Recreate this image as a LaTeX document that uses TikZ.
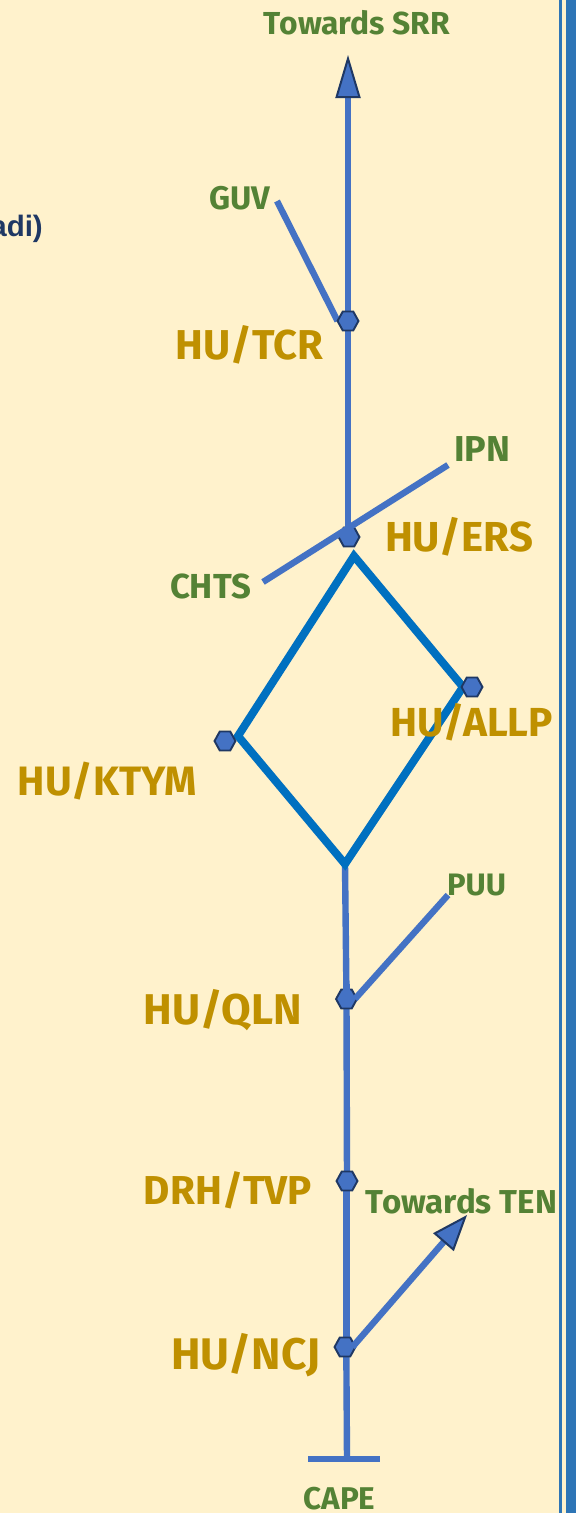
\documentclass[tikz,border=0pt]{standalone}
\usepackage{fontspec}
\usepackage{graphicx}
\setmainfont{Fira Sans}
\newfontfamily\arialish{Liberation Sans}
\usetikzlibrary{arrows.meta,shapes.geometric,backgrounds}
\definecolor{bgcream}{HTML}{FFF2CC}
\definecolor{railblue}{HTML}{2E75B6}
\definecolor{lineblue}{HTML}{4472C4}
\definecolor{loopblue}{HTML}{0070C0}
\definecolor{darkedge}{HTML}{1F3864}
\definecolor{goldtext}{HTML}{BF9000}
\definecolor{greentext}{HTML}{548235}
\newcommand{\fitw}[2]{\resizebox{#1pt}{!}{#2}}
\tikzset{
  hub/.style={regular polygon,regular polygon sides=6,minimum size=22pt,inner sep=0pt,outer sep=0pt,
    xscale=.95,transform shape,fill=lineblue,draw=darkedge,line width=1.9pt},
  track/.style={draw=lineblue,line width=6.4pt},
  loopline/.style={draw=loopblue,line width=8pt,line join=miter},
  station/.style={text=goldtext,font=\bfseries\fontsize{38}{38}\selectfont,inner sep=0pt},
  place/.style={text=greentext,font=\bfseries\fontsize{29}{29}\selectfont,inner sep=0pt},
  bigtip/.style={-{Triangle[length=43pt,width=25pt,fill=lineblue,color=darkedge,line width=2pt]}},
  midtip/.style={-{Triangle[length=36pt,width=27pt,fill=lineblue,color=darkedge,line width=2pt]}},
}
\begin{document}
\begin{tikzpicture}[x=1pt,y=-1pt]
\useasboundingbox (0,0) rectangle (576,1513);

\coordinate (srrEnd) at (348,55);
\coordinate (guvEnd) at (277,201);
\coordinate (ipnEnd) at (448,465);
\coordinate (chtsEnd) at (263,582);
\coordinate (puuEnd) at (448,895);
\coordinate (tenEnd) at (467,1215);
\coordinate (capeEnd) at (347,1459);
\coordinate (capeL) at (308,1459);
\coordinate (capeR) at (380,1459);
\coordinate (loopT) at (354,556);
\coordinate (loopR) at (463,687);
\coordinate (loopB) at (345,864);
\coordinate (loopL) at (238,736);

\node[hub] (tcr) at (348,321) {};
\node[hub] (ers) at (349,537) {};
\node[hub] (allp) at (472,687) {};
\node[hub] (ktym) at (225,741) {};
\node[hub] (qln) at (346.5,999) {};
\node[hub] (tvp) at (347,1181) {};
\node[hub] (ncj) at (345,1347) {};

\begin{pgfonlayer}{background}
\fill[bgcream] (0,0) rectangle (576,1513);
\fill[railblue] (559,0) rectangle (562,1513);
\fill[railblue] (565.7,0) rectangle (576,1513);
\draw[track,bigtip] (tcr.center) -- (srrEnd);
\draw[track] (guvEnd) -- (tcr.west);
\draw[track] (tcr.center) -- (ers.center -| tcr.center);
\draw[track] (loopB) -- (qln.center);
\draw[track] (qln.center) -- (tvp.center);
\draw[track] ([xshift=-.7pt]tvp.center) -- ([xshift=1.3pt]ncj.center);
\draw[track] ([xshift=1.3pt]ncj.center) -- (capeEnd);
\draw[loopline] (loopT) -- (loopR) -- (loopB) -- (loopL) -- cycle;
\end{pgfonlayer}

\draw[track] (chtsEnd) -- (ipnEnd);
\draw[track] ([yshift=5pt]qln.north) -- (qln.center);
\draw[track] (puuEnd) -- ([xshift=-2pt]qln.east);
\draw[track,midtip] ([xshift=-3pt]ncj.east) -- (tenEnd);
\draw[track] (capeL) -- (capeR);

\node[place] (lsrr) at (357,23) {\fitw{186}{Towards SRR}};
\node[place] (lguv) at (239.5,198) {\fitw{61}{GUV}};
\node[station] (ltcr) at (249.5,345) {\fitw{147}{HU/TCR}};
\node[place] (lipn) at (482,449) {\fitw{56}{IPN}};
\node[station] (lers) at (459,537) {\fitw{148}{HU/ERS}};
\node[place] (lchts) at (210.5,586) {\fitw{81}{CHTS}};
\node[station] (lallp) at (471.5,722) {\fitw{163}{HU/ALLP}};
\node[station] (lktym) at (107.5,781) {\fitw{179}{HU/KTYM}};
\node[place] (lpuu) at (476.5,885) {\fitw{59}{PUU}};
\node[station] (lqln) at (223,1010) {\fitw{158}{HU/QLN}};
\node[station] (ltvp) at (228,1190) {\fitw{168}{DRH/TVP}};
\node[place] (lten) at (461.5,1201) {\fitw{191}{Towards TEN}};
\node[station] (lncj) at (245.5,1355) {\fitw{149}{HU/NCJ}};
\node[place] (lcape) at (339.5,1498.5) {\fitw{72}{CAPE}};
\node[anchor=base east,inner sep=0pt,text=darkedge,font=\arialish\bfseries\fontsize{29.5}{29.5}\selectfont] (ladi) at (43,236) {adi)};
\end{tikzpicture}
\end{document}
